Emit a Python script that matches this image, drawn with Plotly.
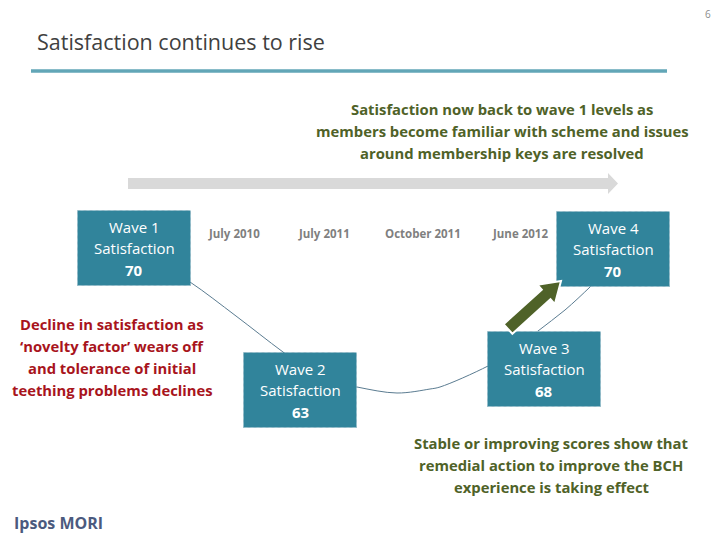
import numpy as np
import plotly.graph_objects as go

# ---------------- data ----------------
title = "Satisfaction continues to rise"
page_no = "6"
waves = ["Wave 1", "Wave 2", "Wave 3", "Wave 4"]
scores = [70, 63, 68, 70]
dates = ["July 2010", "July 2011", "October 2011", "June 2012"]
headline = ["Satisfaction now back to wave 1 levels as",
            "members become familiar with scheme and issues",
            "around membership keys are resolved"]
decline_note = ["Decline in satisfaction as",
                "\u2018novelty factor\u2019 wears off",
                "and tolerance of initial",
                "teething problems declines"]
improve_note = ["Stable or improving scores show that",
                "remedial action to improve the BCH",
                "experience is taking effect"]
logo = "Ipsos MORI"

# ---------------- layout (pixel positions) ----------------
W, H = 720, 540
FONT = "Open Sans"
box_cx = [134, 300, 544, 613]
box_cy = [248, 390, 369, 249]
box_w, box_h = 113, 75
date_x = [234, 324, 423, 520]
date_y = 233
curve_x = [150, 190, 236, 283, 320, 357, 397, 430, 440, 488, 515, 538, 565, 590, 605]
curve_y = [258, 282, 316, 352, 378, 387, 393, 389, 387, 366, 350, 331, 310, 287, 272]

BOX_FILL = "#31849B"
BOX_LINE = "#8FB6C4"
OLIVE = "#4F6228"
RED = "#A8141C"

fig = go.Figure()

# connector curve (under the boxes)
fig.add_trace(go.Scatter(x=curve_x, y=curve_y, mode="lines",
                         line=dict(color="#5B7C91", width=1, shape="spline", smoothing=1.0),
                         hoverinfo="skip", showlegend=False))

shapes = []
annotations = []

# title underline
shapes.append(dict(type="line", x0=31, x1=667, y0=71, y1=71,
                   line=dict(color="#62A6B7", width=3.5), layer="above"))

# timeline arrow
tl_x0, tl_x1, tl_tip, tl_y, tl_hw, tl_hh = 128, 608, 618, 183.5, 5.5, 10.5
shapes.append(dict(type="path",
                   path=f"M{tl_x0},{tl_y-tl_hw} L{tl_x1},{tl_y-tl_hw} L{tl_x1},{tl_y-tl_hh} "
                        f"L{tl_tip},{tl_y} L{tl_x1},{tl_y+tl_hh} L{tl_x1},{tl_y+tl_hw} "
                        f"L{tl_x0},{tl_y+tl_hw} Z",
                   fillcolor="#D9D9D9", line=dict(width=0), layer="above"))

# wave boxes
for cx, cy, wv, sc in zip(box_cx, box_cy, waves, scores):
    shapes.append(dict(type="rect", x0=cx - box_w / 2, x1=cx + box_w / 2,
                       y0=cy - box_h / 2, y1=cy + box_h / 2,
                       fillcolor=BOX_FILL, line=dict(color=BOX_LINE, width=1, dash="dot"),
                       layer="above"))
    for dy, txt in zip([-21.5, 0, 21.5], [wv, "Satisfaction", f"<b>{sc}</b>"]):
        annotations.append(dict(x=cx, y=cy + dy, text=txt, showarrow=False,
                                xanchor="center", yanchor="middle",
                                font=dict(family=FONT, size=15, color="white")))

# green arrow (improvement)
tail = np.array([508.0, 329.0])
tip = np.array([561.0, 281.0])
d = tip - tail
u = d / np.linalg.norm(d)
n = np.array([-u[1], u[0]])
hw, hh, hl = 6.5, 13.0, 20.0
neck = tip - u * hl
pts = [tail + n * hw, neck + n * hw, neck + n * hh, tip, neck - n * hh, neck - n * hw, tail - n * hw]
path = "M" + " L".join(f"{p[0]:.1f},{p[1]:.1f}" for p in pts) + " Z"
shapes.append(dict(type="path", path=path, fillcolor=OLIVE,
                   line=dict(color="white", width=2), layer="above"))

# title and page number
annotations.append(dict(x=35, y=41, text=title, showarrow=False, xanchor="left", yanchor="middle",
                        font=dict(family=FONT, size=21.5, color="#404040")))
annotations.append(dict(x=713, y=14, text=page_no, showarrow=False, xanchor="right", yanchor="middle",
                        font=dict(family=FONT, size=10, color="#8C8C8C")))

# headline
for i, t in enumerate(headline):
    annotations.append(dict(x=502, y=109 + 22 * i, text=f"<b>{t}</b>", showarrow=False,
                            xanchor="center", yanchor="middle",
                            font=dict(family=FONT, size=14.8, color=OLIVE)))

# dates
for x, t in zip(date_x, dates):
    annotations.append(dict(x=x, y=date_y, text=f"<b>{t}</b>", showarrow=False, xanchor="center",
                            yanchor="middle", font=dict(family=FONT, size=11.5, color="#7F7F7F")))

# decline note
for i, t in enumerate(decline_note):
    annotations.append(dict(x=112, y=324 + 22 * i, text=f"<b>{t}</b>", showarrow=False,
                            xanchor="center", yanchor="middle",
                            font=dict(family=FONT, size=14.8, color=RED)))

# improvement note
for i, t in enumerate(improve_note):
    annotations.append(dict(x=551, y=443 + 22 * i, text=f"<b>{t}</b>", showarrow=False,
                            xanchor="center", yanchor="middle",
                            font=dict(family=FONT, size=14.8, color=OLIVE)))

# logo
annotations.append(dict(x=12, y=523, text=f"<b>{logo}</b>", showarrow=False, xanchor="left",
                        yanchor="middle", font=dict(family=FONT, size=16, color="#4B5A7E")))

fig.update_layout(
    width=W, height=H, margin=dict(l=0, r=0, t=0, b=0),
    paper_bgcolor="white", plot_bgcolor="white",
    xaxis=dict(range=[0, W], visible=False, fixedrange=True),
    yaxis=dict(range=[H, 0], visible=False, fixedrange=True),
    shapes=shapes, annotations=annotations, showlegend=False,
)

fig.write_html("out.html", config={"displayModeBar": False, "staticPlot": True},
               post_script="document.body.style.margin='0px';document.body.style.overflow='hidden';")
